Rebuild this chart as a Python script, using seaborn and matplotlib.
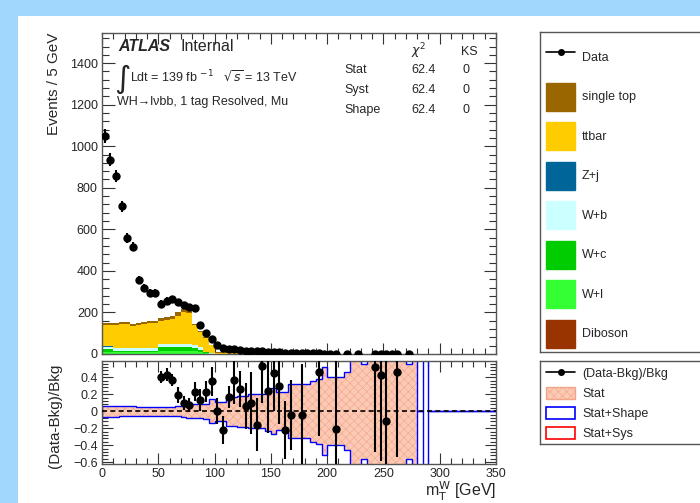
import numpy as np
import pandas as pd
import seaborn as sns
import matplotlib.pyplot as plt
from matplotlib.lines import Line2D
from matplotlib.patches import Patch, Rectangle
from matplotlib.ticker import MultipleLocator, FuncFormatter

# BINNING (5 GeV bins from 0 to 350 GeV)
bin_edges = np.arange(0, 355, 5)
bin_centres = bin_edges[:-1] + 2.5

# DATA: observed events per bin
data_events = [1049, 935, 855, 710, 559, 517, 356, 320, 296, 296,
               243, 256, 264, 248, 235, 227, 220, 140, 103, 71,
               43, 27, 25, 22, 19, 16, 15, 13, 13, 11,
               10, 8, 7, 6, 6, 4, 4, 3, 3, 2,
               2, 2, 0, 1, 0, 1, 0, 0, 1, 1,
               1, 1, 1, 0, 1] + [0] * 15

# BACKGROUNDS (stacked, top of the stack first)
single_top = [10, 10, 10, 10, 10, 9, 10, 11, 10, 10,
              14, 14, 15, 16, 16, 17, 6, 4, 3, 2,
              1, 1, 0.8, 0.8, 0.6, 0.5, 0.4, 0.4, 0.3, 0.3,
              0.3, 0.25, 0.2, 0.2, 0.15, 0.15, 0.1, 0.1, 0.1, 0.1,
              0.1, 0.05, 0.05, 0.05, 0.05] + [0] * 25
ttbar = [102, 102, 111.5, 112.5, 115.5, 107.5, 110.5, 114.5, 117.5, 119.5,
         111, 116, 120, 134, 150, 149, 94, 73, 65, 40,
         6, 5.5, 5, 4.5, 3, 2.5, 2, 1.8, 1.6, 1.5,
         1.3, 1.2, 1.0, 0.9, 0.8, 0.7, 0.6, 0.5, 0.5, 0.4,
         0.4, 0.3, 0.3, 0.3, 0.25, 0.2, 0.2, 0.2, 0.15, 0.15,
         0.1, 0.1, 0.1, 0.1, 0.1] + [0] * 15
z_jets = [5, 5, 3, 3, 3, 3, 3, 3, 3, 3,
          2, 2, 2, 2, 2, 2, 2, 2.5, 0.5, 0.3,
          0.1, 0.1, 0.1, 0.1, 0.1, 0.1, 0.1, 0.1, 0.1] + [0] * 41
w_b = [11, 11, 10, 10, 10, 10, 10, 10, 10, 10,
       16, 16, 16, 16, 16, 16, 14, 11, 4, 0.5,
       0.2, 0.2, 0.2, 0.2, 0.2, 0.2, 0.2, 0.2, 0.2] + [0] * 41
w_c = [11, 11, 8, 8, 8, 8, 8, 8, 8, 8,
       18, 18, 18, 18, 18, 18, 16, 12, 4, 1,
       0.3, 0.3, 0.3, 0.3, 0.3, 0.3, 0.3, 0.3, 0.3] + [0] * 41
w_l = [9, 9, 7, 7, 7, 7, 7, 7, 7, 7,
       12, 12, 12, 12, 12, 12, 11, 8, 3, 1,
       0.3, 0.3, 0.3, 0.3, 0.3, 0.3, 0.3, 0.3, 0.3] + [0] * 41
diboson = [2, 2, 1.5, 1.5, 1.5, 1.5, 1.5, 1.5, 1.5, 1.5,
           2, 2, 2, 2, 2, 2, 2, 1.5, 0.5, 0.2,
           0.2, 0.2, 0.2, 0.2, 0.2, 0.1, 0.1, 0.1, 0.1] + [0] * 41

sample_names = ["single top", "ttbar", "Z+j", "W+b", "W+c", "W+l", "Diboson"]
sample_colors = ["#996600", "#ffcc00", "#006699", "#ccffff", "#00cc00", "#33ff33", "#993300"]
sample_values = [single_top, ttbar, z_jets, w_b, w_c, w_l, diboson]

# RATIO PANEL: (Data-Bkg)/Bkg and its errors (NaN = off scale / empty)
nan = np.nan
ratio_vals = [nan] * 10 + [
    0.40, 0.43, 0.37, 0.19, 0.095, 0.07, 0.23, 0.13, 0.23, 0.35,
    0.0, -0.22, 0.17, 0.37, 0.26, 0.056, 0.095, -0.16, 0.53, 0.24,
    0.45, 0.30, -0.22, -0.044, nan, -0.044, nan, nan, 0.46, nan,
    nan, -0.21, nan, nan, nan, nan, nan, nan, 0.52, 0.42,
    -0.115, nan, 0.46] + [nan] * 17
ratio_errs = [nan] * 10 + [
    0.07, 0.08, 0.07, 0.09, 0.08, 0.08, 0.11, 0.13, 0.12, 0.17,
    0.15, 0.16, 0.13, 0.29, 0.21, 0.27, 0.36, 0.31, 0.43, 0.5,
    0.45, 0.45, 0.34, 0.41, nan, 0.6, nan, nan, 0.75, nan,
    nan, 0.8, nan, nan, nan, nan, nan, nan, 1.0, 1.0,
    1.0, nan, 1.0] + [nan] * 17

# band half-widths per bin
stat_band = [0.065, 0.065, 0.062, 0.06, 0.06, 0.058, 0.055, 0.055, 0.055, 0.055,
             0.055, 0.055, 0.055, 0.058, 0.065, 0.08, 0.085, 0.085, 0.09, 0.14,
             0.11, 0.11, 0.17, 0.17, 0.18, 0.18, 0.2, 0.2, 0.2, 0.23,
             0.27, 0.22, 0.22, 0.32, 0.32, 0.32, 0.32, 0.36, 0.38, 0.52,
             0.40, 0.40, 0.40, 0.46, 5, 5, 0.56, 5, 5, 5,
             5, 5, 5, 5, 0.56, 5, 0, 0] + [0] * 12
shape_band = [0.065, 0.065, 0.062, 0.06, 0.06, 0.058, 0.055, 0.055, 0.055, 0.055,
              0.055, 0.055, 0.055, 0.058, 0.065, 0.08, 0.085, 0.085, 0.09, 0.14,
              0.11, 0.11, 0.17, 0.17, 0.18, 0.18, 0.2, 0.2, 0.2, 0.23,
              0.27, 0.22, 0.22, 0.32, 0.32, 0.32, 0.32, 0.36, 0.38, 0.52,
              0.40, 0.40, 0.40, 0.46, 5, 5, 0.56, 5, 5, 5,
              5, 5, 5, 5, 0.56, 5, 0, 5] + [0] * 12

# long table for seaborn
bkg_df = pd.DataFrame({
    "mT": np.tile(bin_centres, len(sample_names)),
    "events": np.concatenate([np.array(v, dtype=float) for v in sample_values]),
    "sample": np.repeat(sample_names, len(bin_centres)),
})

sns.set_style("ticks")
plt.rcParams["font.family"] = ["Liberation Sans", "DejaVu Sans"]
plt.rcParams["hatch.linewidth"] = 0.4

W, H = 700, 503
fig = plt.figure(figsize=(7.0, 5.03), dpi=100)
fig.patch.set_facecolor("#a1d6fd")
fig.add_artist(Rectangle((18 / W, 0), 1, 1 - 16 / H, transform=fig.transFigure,
                         facecolor="white", edgecolor="none", zorder=-5))

ax = fig.add_axes([102 / W, 1 - 354 / H, 394 / W, 321 / H])
ax_r = fig.add_axes([102 / W, 1 - 464 / H, 394 / W, 103 / H])

# STACK
sns.histplot(data=bkg_df, x="mT", weights="events", hue="sample",
             hue_order=sample_names, palette=dict(zip(sample_names, sample_colors)),
             multiple="stack", bins=bin_edges.tolist(), element="step", fill=True,
             alpha=1, linewidth=0, legend=False, ax=ax)

data_arr = np.array(data_events, dtype=float)
has_data = data_arr > 0
ax.errorbar(bin_centres[has_data], data_arr[has_data], yerr=np.sqrt(data_arr[has_data]),
            fmt="o", color="black", ms=5, elinewidth=1.5, capsize=0, zorder=5)

ax.set_xlim(0, 350)
ax.set_ylim(0, 1545)
ax.set_xlabel("")
ax.set_ylabel("Events / 5 GeV", fontsize=11, ha="right")
ax.yaxis.set_label_coords(-0.104, 1.0)
ax.xaxis.set_major_locator(MultipleLocator(50))
ax.xaxis.set_minor_locator(MultipleLocator(10))
ax.yaxis.set_major_locator(MultipleLocator(200))
ax.yaxis.set_minor_locator(MultipleLocator(40))
ax.tick_params(labelbottom=False)

# text block
ax.text(0.041, 0.945, "ATLAS", transform=ax.transAxes, fontsize=11.5,
        fontweight="bold", fontstyle="italic", va="baseline")
ax.text(0.198, 0.945, "Internal", transform=ax.transAxes, fontsize=11.5, va="baseline")
ax.text(0.031, 0.83, r"$\int$", transform=ax.transAxes, fontsize=16, va="baseline")
ax.text(0.07, 0.847, r"Ldt = 139 fb $^{-1}$   $\sqrt{s}$ = 13 TeV",
        transform=ax.transAxes, fontsize=9, va="baseline")
ax.text(0.038, 0.776, "WH\u2192l\u03bdbb, 1 tag Resolved, Mu",
        transform=ax.transAxes, fontsize=9, va="baseline")

table_rows = ["Stat", "Syst", "Shape"]
chi2_vals = ["62.4", "62.4", "62.4"]
ks_vals = ["0", "0", "0"]
ax.text(0.785, 0.931, r"$\chi^2$", transform=ax.transAxes, fontsize=9, va="baseline")
ax.text(0.911, 0.931, "KS", transform=ax.transAxes, fontsize=9, va="baseline")
for k, (r, c, s) in enumerate(zip(table_rows, chi2_vals, ks_vals)):
    yy = 0.874 - 0.061 * k
    ax.text(0.614, yy, r, transform=ax.transAxes, fontsize=9, va="baseline")
    ax.text(0.785, yy, c, transform=ax.transAxes, fontsize=9, va="baseline")
    ax.text(0.916, yy, s, transform=ax.transAxes, fontsize=9, va="baseline")

# RATIO PANEL
stat_arr = np.array(stat_band)
shape_arr = np.array(shape_band)
ax_r.stairs(stat_arr, bin_edges, baseline=-stat_arr, fill=True, facecolor="#fccab4",
            edgecolor="#f2a489", hatch="xxxx", linewidth=0, zorder=1)
ax_r.stairs(shape_arr, bin_edges, color="blue", linewidth=1.0, zorder=2)
ax_r.stairs(-shape_arr, bin_edges, color="blue", linewidth=1.0, zorder=2)
ax_r.axhline(0, color="black", ls=(0, (3, 2)), lw=1.2, zorder=3)
ax_r.errorbar(bin_centres, ratio_vals, yerr=ratio_errs, fmt="o", color="black",
              ms=5, elinewidth=1.5, capsize=0, zorder=5)

ax_r.set_xlim(0, 350)
ax_r.set_ylim(-0.62, 0.59)
ax_r.xaxis.set_major_locator(MultipleLocator(50))
ax_r.xaxis.set_minor_locator(MultipleLocator(10))
ax_r.yaxis.set_major_locator(MultipleLocator(0.2))
ax_r.yaxis.set_minor_locator(MultipleLocator(0.04))
ax_r.yaxis.set_major_formatter(FuncFormatter(lambda v, p: f"{v:g}".replace("-", "\u2212")))
ax_r.set_ylabel("(Data-Bkg)/Bkg", fontsize=11)
ax_r.yaxis.set_label_coords(-0.102, 0.47)
ax_r.set_xlabel(r"m$_{\mathrm{T}}^{\mathrm{W}}$ [GeV]", fontsize=11.5, ha="right", va="baseline")
ax_r.xaxis.set_label_coords(1.0, -0.315)

for a, ylen in ((ax, 9), (ax_r, 8)):
    a.tick_params(axis="both", which="both", direction="in", top=True, right=True,
                  labelsize=9, width=0.8, color="#333333", pad=3)
    a.tick_params(axis="y", which="major", length=ylen)
    a.tick_params(axis="y", which="minor", length=ylen * 0.55)
    a.tick_params(axis="x", which="major", length=8)
    a.tick_params(axis="x", which="minor", length=4)
    for sp in a.spines.values():
        sp.set_visible(True)
        sp.set_color("#555555")
        sp.set_linewidth(1.0)

# LEGENDS
def frame_axes(rect):
    la = fig.add_axes(rect)
    la.set_xticks([])
    la.set_yticks([])
    la.set_facecolor("white")
    for sp in la.spines.values():
        sp.set_visible(True)
        sp.set_color("#555555")
        sp.set_linewidth(1.0)
    return la

frame_axes([540 / W, 1 - 352 / H, 0.3, 320 / H])
main_handles = [Line2D([], [], color="black", marker="o", ms=4, lw=1.2)]
main_handles += [Patch(facecolor=c, edgecolor=c) for c in sample_colors]
fig.legend(main_handles, ["Data"] + sample_names, loc="upper left",
           bbox_to_anchor=(546 / W, 1 - 43 / H), frameon=False, fontsize=9,
           handlelength=2.32, handleheight=3.07, labelspacing=0.92,
           handletextpad=0.56, borderpad=0, borderaxespad=0)

frame_axes([540 / W, 1 - 444 / H, 0.3, 83 / H])
ratio_handles = [Line2D([], [], color="black", marker="o", ms=4, lw=1.2),
                 Patch(facecolor="#fccab4", edgecolor="#f2a489", hatch="xxxx"),
                 Patch(facecolor="white", edgecolor="blue", lw=1.2),
                 Patch(facecolor="white", edgecolor="red", lw=1.2)]
fig.legend(ratio_handles, ["(Data-Bkg)/Bkg", "Stat", "Stat+Shape", "Stat+Sys"],
           loc="upper left", bbox_to_anchor=(546 / W, 1 - 367 / H), frameon=False,
           fontsize=9, handlelength=2.32, handleheight=1.06, labelspacing=0.55,
           handletextpad=0.56, borderpad=0, borderaxespad=0)

fig.savefig("out.png", dpi=100, facecolor=fig.get_facecolor())
